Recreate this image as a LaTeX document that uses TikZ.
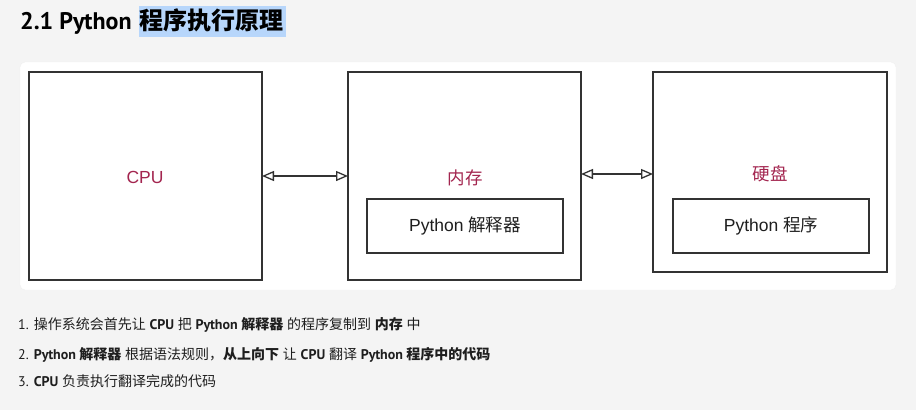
\documentclass[tikz,border=0pt]{standalone}
\usepackage{fontspec}
\setmainfont{PT Sans}
\newfontfamily\diagfont{Liberation Sans}
\newfontfamily\cj{Noto Sans CJK SC}
\usetikzlibrary{arrows.meta}
\definecolor{bgc}{HTML}{F4F4F4}
\definecolor{lblc}{HTML}{A3254F}
\definecolor{linec}{HTML}{333333}
\definecolor{hilite}{HTML}{B7D6FB}
\definecolor{txtc}{HTML}{1E1E1E}
\tikzset{
  box/.style={draw=linec, line width=1.3pt, fill=white, inner sep=0pt, outer sep=0pt, anchor=north west},
  lbl/.style={text=lblc, font=\fontsize{17.5}{20}\diagfont, inner sep=0pt},
  innertxt/.style={text=txtc, font=\fontsize{17.5}{20}\diagfont, inner sep=0pt},
  dbl/.style={draw=linec, line width=1.3pt, {Triangle[open, length=12pt, width=10pt]}-{Triangle[open, length=12pt, width=10pt]}},
  item/.style={anchor=west, inner sep=0pt, text=txtc, font=\fontsize{14}{16}\selectfont},
}
\begin{document}
\begin{tikzpicture}[x=1pt,y=-1pt]
\fill[bgc] (0,0) rectangle (916,410);
\useasboundingbox (0,0) rectangle (916,410);
% title
\fill[hilite] (139,6) rectangle (286,37);
\node[anchor=west, inner sep=0pt, font=\fontsize{24}{26}\selectfont\bfseries, text=black] (title) at (20,22) {2.1 Python\hspace{2pt} {\cj\fontsize{24}{26}\selectfont 程序执行原理}};
% panel
\fill[white, draw=gray!12, rounded corners=5pt] (20,62) rectangle (896,290);
% boxes
\node[box, minimum width=233pt, minimum height=208pt] (cpu) at (29,72) {};
\node[box, minimum width=233pt, minimum height=208pt] (mem) at (348,72) {};
\node[box, minimum width=234pt, minimum height=200pt] (disk) at (653,72) {};
\node[box, minimum width=196pt, minimum height=54pt] (interp) at (367,199) {};
\node[box, minimum width=196pt, minimum height=54pt] (prog) at (673,199) {};
% labels
\node[lbl] (cpulbl) at (145,177) {CPU};
\node[lbl] (memlbl) at (465,178) {\cj 内存};
\node[lbl] (disklbl) at (770,174) {\cj 硬盘};
\node[innertxt] (interplbl) at (interp.center) {Python {\cj 解释器}};
\node[innertxt] (proglbl) at (prog.center) {Python {\cj 程序}};
% arrows
\draw[dbl] (cpu.east) -- (mem.west);
\draw[dbl] ([yshift=2pt]mem.east) -- ([yshift=-2pt]disk.west);
% list
\node[item] (l1) at (18,325) {1. {\cj 操作系统会首先让} \textbf{CPU} {\cj 把} \textbf{Python {\cj 解释器}} {\cj 的程序复制到} \textbf{\cj 内存} {\cj 中}};
\node[item] (l2) at (18,355) {2. \textbf{Python {\cj 解释器}} {\cj 根据语法规则，}\textbf{\cj 从上向下} {\cj 让} \textbf{CPU} {\cj 翻译} \textbf{Python {\cj 程序中的代码}}};
\node[item] (l3) at (18,381) {3. \textbf{CPU} {\cj 负责执行翻译完成的代码}};
\end{tikzpicture}
\end{document}
